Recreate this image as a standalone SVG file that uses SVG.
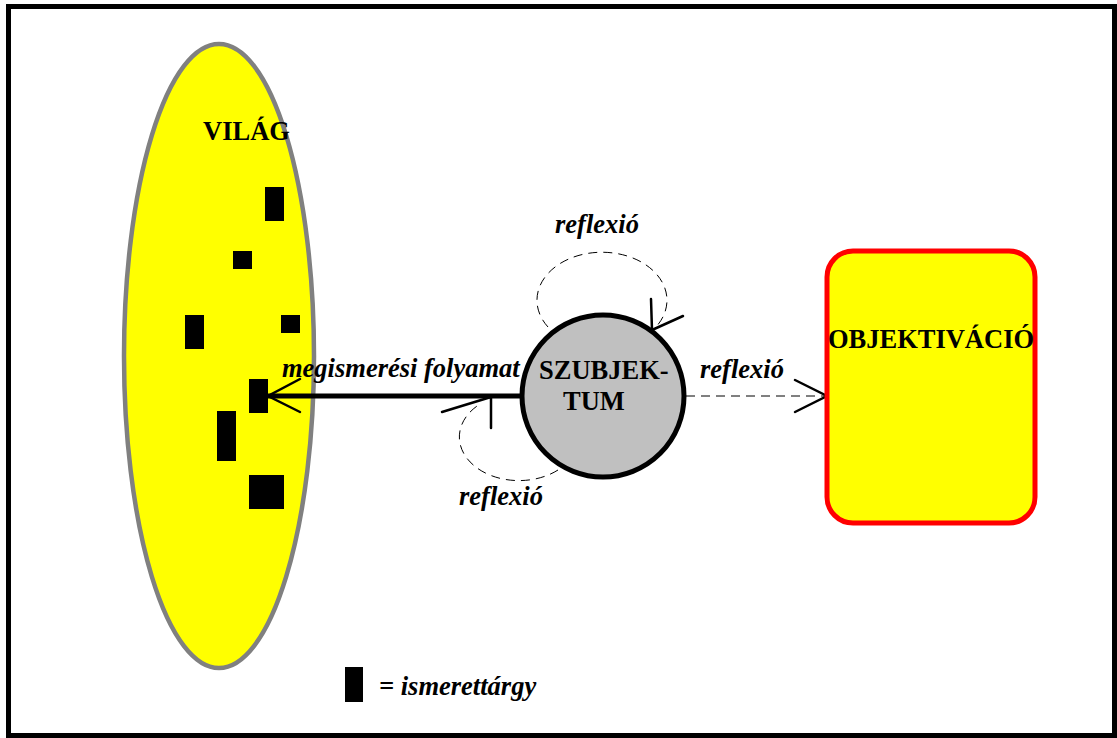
<svg xmlns="http://www.w3.org/2000/svg" width="1117" height="738" viewBox="0 0 1117 738">
<style>
.t{font-family:"Liberation Serif","Times New Roman",serif;font-weight:bold;font-size:26.5px;fill:#000}
.i{font-style:italic}
.obj{fill:#000}
.dash{fill:none;stroke:#000;stroke-width:1;stroke-dasharray:9,6}
.head{fill:none;stroke:#000;stroke-width:2.5;stroke-linecap:round}
</style>
<rect x="0" y="0" width="1117" height="738" fill="#fff"/>
<rect x="8.5" y="6.5" width="1106" height="729" fill="none" stroke="#000" stroke-width="5"/>
<g id="vilag">
<ellipse cx="219" cy="356" rx="95" ry="312" fill="#ffff00" stroke="#808080" stroke-width="4.5"/>
<text class="t" x="203" y="140">VILÁG</text>
<rect class="obj" x="265" y="187" width="19" height="34"/>
<rect class="obj" x="233" y="251" width="19" height="18"/>
<rect class="obj" x="185" y="315" width="19" height="34"/>
<rect class="obj" x="281" y="315" width="19" height="18"/>
<rect class="obj" x="249" y="379" width="19" height="34"/>
<rect class="obj" x="217" y="411" width="19" height="50"/>
<rect class="obj" x="249" y="475" width="35" height="34"/>
</g>
<g id="connectors">
<line x1="521" y1="396" x2="268" y2="396" stroke="#000" stroke-width="5"/>
<polyline class="head" points="300,379 268,396 300,412" stroke-width="5"/>
<line class="dash" x1="686" y1="396" x2="826" y2="396"/>
<polyline class="head" points="795,380 827,396 795,412"/>
<path class="dash" d="M 548 327 A 65 48 0 1 1 655 328"/>
<polyline class="head" points="651,299 652,330 683,316"/>
<path class="dash" d="M 558 470 A 52 38 0 0 1 480 404"/>
<polyline class="head" points="442,412 491,397 491,428"/>
</g>
<g id="labels">
<text class="t i" x="282" y="377">megismerési folyamat</text>
<text class="t i" x="555" y="233">reflexió</text>
<text class="t i" x="459" y="505">reflexió</text>
<text class="t i" x="700" y="378">reflexió</text>
</g>
<g id="szubjektum">
<circle cx="603" cy="396" r="81" fill="#c0c0c0" stroke="#000" stroke-width="5"/>
<text class="t" x="539" y="379">SZUBJEK-</text>
<text class="t" x="563" y="410">TUM</text>
</g>
<g id="objektivacio">
<rect x="827" y="251" width="208" height="272" rx="26" fill="#ffff00" stroke="#ff0000" stroke-width="5"/>
<text class="t" x="931" y="348" text-anchor="middle">OBJEKTIVÁCIÓ</text>
</g>
<g id="legend">
<rect class="obj" x="345" y="667" width="18" height="35"/>
<text class="t i" x="379" y="695">= ismerettárgy</text>
</g>
</svg>
